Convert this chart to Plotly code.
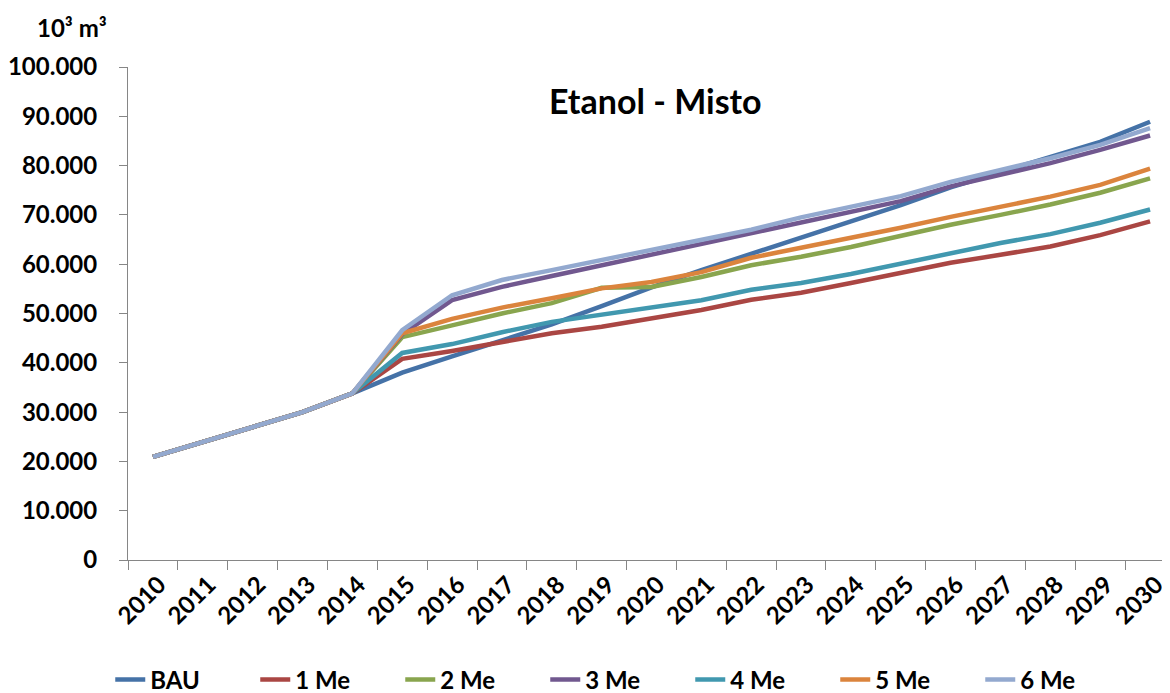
import plotly.graph_objects as go

years = [str(y) for y in range(2010, 2031)]

common = [20900, 23900, 26900, 30000, 33800]

bau = common + [38000, 41300, 44600, 47800, 51500, 55300, 58800, 62200, 65400, 68700,
                72000, 75600, 78700, 81700, 84800, 88900]
me1 = common + [40800, 42400, 44200, 46000, 47300, 49100, 50700, 52800, 54200, 56200,
                58200, 60300, 61900, 63600, 65900, 68700]
me2 = common + [45200, 47600, 50000, 52100, 55200, 55400, 57400, 59800, 61500, 63500,
                65800, 68000, 70000, 72100, 74500, 77400]
me3 = common + [45800, 52700, 55400, 57600, 59800, 61900, 64100, 66300, 68400, 70600,
                72800, 75800, 78100, 80500, 83200, 86100]
me4 = common + [42000, 43800, 46200, 48300, 49700, 51100, 52700, 54800, 56200, 58000,
                60100, 62400, 64300, 66100, 68400, 71100]
me5 = common + [46000, 48900, 51200, 53100, 55100, 56400, 58400, 61300, 63300, 65300,
                67400, 69600, 71600, 73700, 76100, 79400]
me6 = common + [46600, 53700, 56800, 58800, 60800, 62900, 64900, 67000, 69500, 71600,
                73800, 76700, 79100, 81500, 84200, 87600]

names = ["BAU", "1 Me", "2 Me", "3 Me", "4 Me", "5 Me", "6 Me"]
series = [bau, me1, me2, me3, me4, me5, me6]
colors = ["#4572A7", "#AA4643", "#89A54E", "#71588F", "#4198AF", "#DB843D", "#93A9CF"]

fig = go.Figure()
for n, s, c in zip(names, series, colors):
    fig.add_trace(go.Scatter(x=years, y=s, name=n, mode="lines",
                             line=dict(color=c, width=4.5)))

tick_font = dict(family="Lato", size=24, color="black", weight="bold")

fig.update_layout(
    width=1162, height=685,
    margin=dict(l=120, r=0, t=59, b=133),
    plot_bgcolor="white", paper_bgcolor="white",
    separators=",.",
    showlegend=True,
    legend=dict(orientation="h", xref="container", yref="container",
                x=0.088, y=0.019, xanchor="left", yanchor="middle",
                font=dict(family="Lato", size=24, color="black", weight="bold"),
                entrywidth=100, entrywidthmode="pixels", traceorder="normal"),
    xaxis=dict(type="category", range=[-0.5, 20.4], showgrid=False,
               showline=True, linecolor="#868686", linewidth=1,
               ticks="outside", ticklen=9, tickcolor="#868686",
               tickson="boundaries", tickangle=-45, tickfont=tick_font,
               ticklabelshift=6,
               automargin=False, fixedrange=True),
    yaxis=dict(range=[0, 100000], dtick=10000, tickformat=",d", showgrid=False,
               showline=True, linecolor="#868686", linewidth=1,
               ticks="outside", ticklen=8, tickcolor="#868686",
               tickfont=tick_font, ticklabelstandoff=17, zeroline=False,
               automargin=False),
    annotations=[
        dict(text="Etanol - Misto", xref="paper", yref="paper", x=0.506, y=0.933,
             xanchor="center", yanchor="middle", showarrow=False,
             font=dict(family="Lato", size=34, color="black", weight="bold")),
        dict(text="10³ m³", xref="paper", yref="paper", x=-0.054, y=1.081,
             xanchor="center", yanchor="middle", showarrow=False,
             font=dict(family="Lato", size=24, color="black", weight="bold")),
    ],
)

fig.write_html("out.html")
